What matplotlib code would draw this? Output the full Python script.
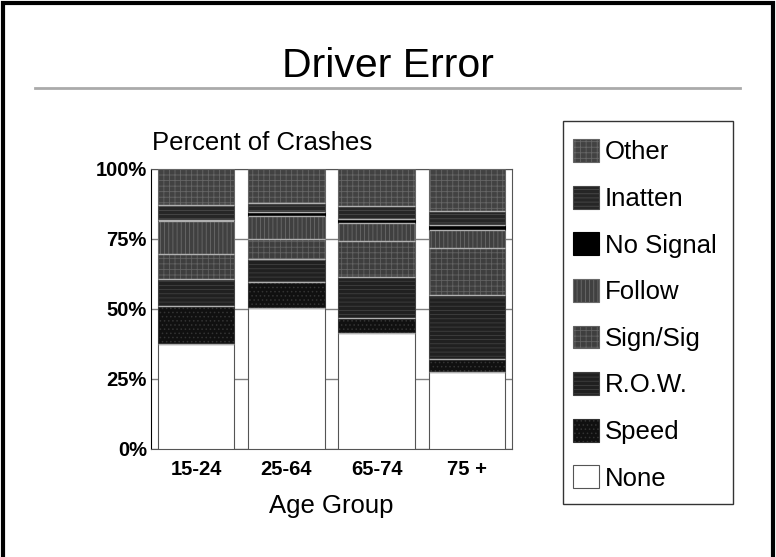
import matplotlib.pyplot as plt
from matplotlib.patches import Rectangle
from matplotlib.lines import Line2D
import numpy as np

plt.rcParams['font.family'] = ['Liberation Sans', 'DejaVu Sans']
plt.rcParams['hatch.linewidth'] = 0.6

# Age groups and share of crashes (%) by driver error, bottom to top
age_groups = ['15-24', '25-64', '65-74', '75 +']
causes = ['None', 'Speed', 'R.O.W.', 'Sign/Sig', 'Follow', 'No Signal', 'Inatten', 'Other']
none_pct = [37.3, 50.2, 41.2, 27.5]
speed_pct = [13.8, 9.5, 5.4, 4.5]
row_pct = [9.6, 8.0, 14.9, 22.9]
sign_pct = [8.9, 7.2, 12.6, 16.8]
follow_pct = [11.9, 8.4, 6.5, 6.3]
nosignal_pct = [0.4, 1.2, 1.5, 1.8]
inatten_pct = [5.3, 3.3, 4.5, 5.0]
other_pct = [12.8, 12.2, 13.4, 15.2]
yticks = [0, 25, 50, 75, 100]

series = [none_pct, speed_pct, row_pct, sign_pct, follow_pct, nosignal_pct, inatten_pct, other_pct]
# face colour, hatch/edge colour, hatch pattern
styles = [
    ('white', '#555555', None),
    ('#101010', '#333333', '....'),
    ('#202020', '#404040', '----'),
    ('#3e3e3e', '#626262', '+++'),
    ('#404040', '#6a6a6a', '||||'),
    ('#000000', '#000000', None),
    ('#262626', '#4a4a4a', '----'),
    ('#424242', '#666666', '+++'),
]

fig = plt.figure(figsize=(7.76, 5.57), dpi=100)
ax = fig.add_axes([151 / 776, 1 - 448.5 / 557, 361 / 776, 279.5 / 557])

x = np.arange(len(age_groups))
bottom = np.zeros(len(age_groups))
handles = []
for vals, name, (fc, ec, hatch) in zip(series, causes, styles):
    bars = ax.bar(x, vals, 0.85, bottom=bottom, color=fc, edgecolor=ec,
                  hatch=hatch, linewidth=0.8, zorder=3, label=name)
    bottom += np.array(vals)
    handles.append(bars)

# thin light separators between stacked segments
cum = np.zeros(len(age_groups))
for vals in series[:-1]:
    cum += np.array(vals)
    for xi, c in zip(x, cum):
        ax.hlines(c, xi - 0.425, xi + 0.425, color='#b0b0b0', lw=1.0, zorder=4)

ax.set_xlim(-0.5, 3.5)
ax.set_ylim(0, 100)
ax.set_yticks(yticks)
ax.set_yticklabels([f'{t}%' for t in yticks], fontsize=14.5, fontweight='bold')
ax.set_xticks(x)
ax.set_xticklabels(age_groups, fontsize=14.5, fontweight='bold')
ax.tick_params(axis='y', length=0, pad=3)
ax.tick_params(axis='x', length=0, pad=8)
ax.grid(axis='y', color='#808080', lw=1.0, zorder=0)
for side in ['top', 'right', 'bottom']:
    ax.spines[side].set_color('#555555')
ax.spines['left'].set_color('#000000')

fig.text(152 / 776, 1 - 143 / 557, 'Percent of Crashes', fontsize=18.5, va='center', ha='left')
fig.text(331.5 / 776, 1 - 506 / 557, 'Age Group', fontsize=18.5, va='center', ha='center')
fig.text(0.5, 1 - 77 / 557, 'Driver Error', fontsize=29.5, ha='center', va='baseline')
fig.add_artist(Line2D([35 / 776, 740 / 776], [1 - 88 / 557, 1 - 88 / 557],
                      color='#aaaaaa', lw=2, transform=fig.transFigure))

# outer frame (runs off the bottom edge)
fig.add_artist(Rectangle((3 / 776, -0.1), 770 / 776, 1.1 - 3 / 557, fill=False,
                         edgecolor='black', lw=3, transform=fig.transFigure))

# legend box drawn separately, entries placed inside it
fig.add_artist(Rectangle((563 / 776, 1 - 504 / 557), 170 / 776, 383 / 557, fill=False,
                         edgecolor='#333333', lw=1.0, transform=fig.transFigure))
leg = fig.legend(handles[::-1], causes[::-1], loc='upper left',
                 bbox_to_anchor=(573 / 776, 1 - 139 / 557), fontsize=18.5,
                 handlelength=1.0, handleheight=1.0, handletextpad=0.25,
                 labelspacing=0.83, borderpad=0, borderaxespad=0,
                 frameon=False)

fig.savefig('out.png', dpi=100)
